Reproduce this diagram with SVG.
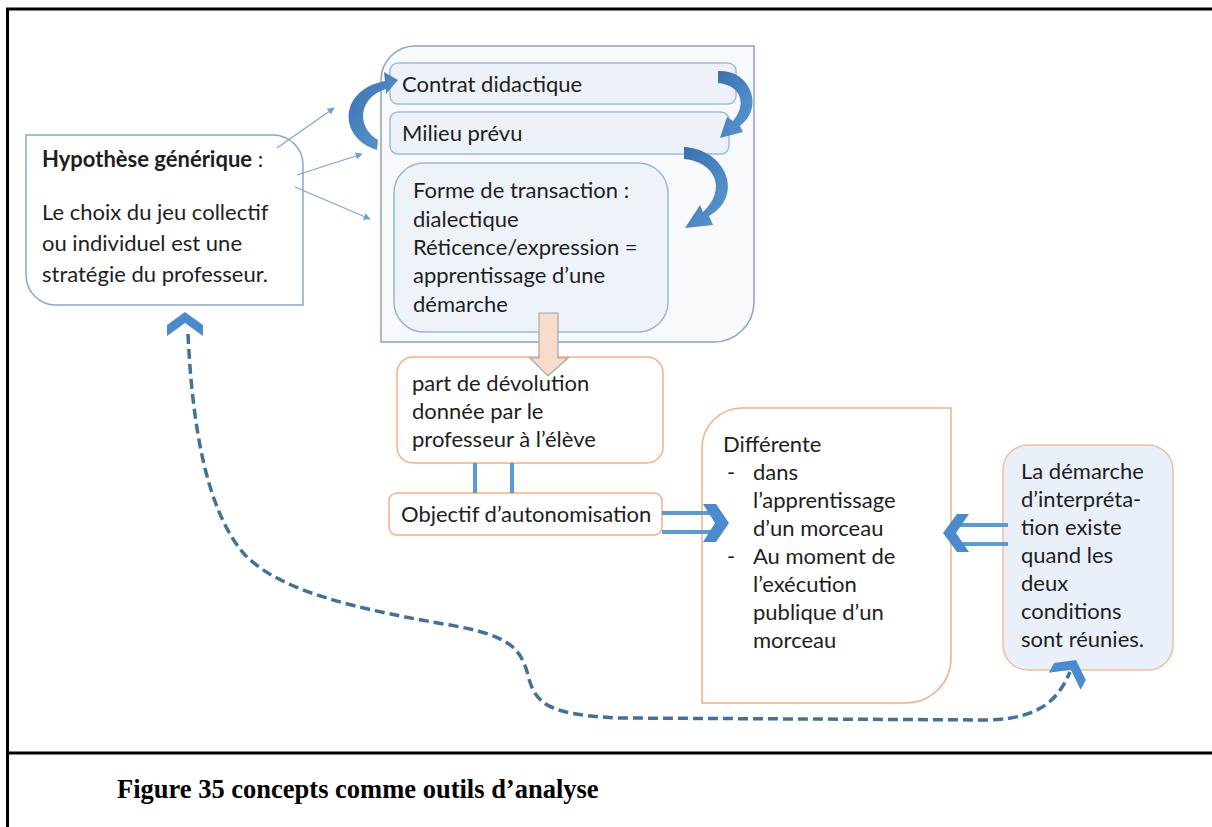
<svg xmlns="http://www.w3.org/2000/svg" width="1212" height="827" viewBox="0 0 1212 827">
<defs>
<style>
.t{font-family:Lato,"Liberation Sans",sans-serif;font-size:22px;fill:#1e1e1e}
.b{font-weight:bold}
.cap{font-family:"Liberation Serif",serif;font-size:26.5px;font-weight:bold;fill:#000}
.frame{stroke:#000;stroke-width:3;fill:none}
.thin{stroke:#7fa7d3;stroke-width:1.3;fill:none;marker-end:url(#tri)}
.orange{fill:#fff;stroke:#f4b084;stroke-width:1.5}
.curv{fill:url(#g)}
.chev{fill:#4a8bd0}
.bar{stroke:#5b9bd5;stroke-width:4;fill:none}
</style>
<linearGradient id="g" x1="0" y1="0" x2="1" y2="1">
<stop offset="0" stop-color="#3a70ad"/>
<stop offset="1" stop-color="#5b9bd5"/>
</linearGradient>
<marker id="tri" viewBox="0 0 10 10" refX="9" refY="5" markerWidth="7" markerHeight="7" markerUnits="userSpaceOnUse" orient="auto">
<path d="M0,0 L10,5 L0,10 Z" fill="#6f9fd0"/>
</marker>
<path id="chevU" d="M0,0 L18,13 L18,24 L0,11 L-18,24 L-18,13 Z"/>
</defs>
<rect width="1212" height="827" fill="#fff"/>
<g id="frame">
<line class="frame" x1="6" y1="9" x2="1212" y2="9"/>
<line class="frame" x1="7.5" y1="8" x2="7.5" y2="827"/>
<line class="frame" x1="6" y1="753" x2="1212" y2="753"/>
</g>
<g id="container">
<path d="M381,80 A34,34 0 0 1 415,46 H754 V302 A40,40 0 0 1 714,342 H381 Z" fill="#f8f9fb" stroke="#8aa4c4" stroke-width="1.5"/>
</g>
<g id="contrat">
<rect x="390" y="63" width="346" height="41" rx="8" fill="#edf2f9" stroke="#9bbbe0" stroke-width="1.5"/>
<text class="t" x="402" y="92">Contrat didactique</text>
</g>
<g id="milieu">
<rect x="390" y="112" width="339" height="42" rx="8" fill="#edf2f9" stroke="#9bbbe0" stroke-width="1.5"/>
<text class="t" x="402" y="141">Milieu prévu</text>
</g>
<g id="forme">
<rect x="394" y="163" width="274" height="169" rx="30" fill="#eef3fa" stroke="#9ab5d5" stroke-width="1.5"/>
<text class="t" x="413" y="198">Forme de transaction :</text>
<text class="t" x="413" y="227">dialectique</text>
<text class="t" x="413" y="255">Réticence/expression =</text>
<text class="t" x="413" y="283">apprentissage d’une</text>
<text class="t" x="413" y="312">démarche</text>
</g>
<g id="hypothese">
<path d="M26,135 H273 A30,30 0 0 1 303,165 V305 H56 A30,30 0 0 1 26,275 Z" fill="#fff" stroke="#86a9cf" stroke-width="1.5"/>
<text class="t" x="42" y="167"><tspan class="b">Hypothèse générique</tspan> :</text>
<text class="t" x="42" y="220">Le choix du jeu collectif</text>
<text class="t" x="42" y="251">ou individuel est une</text>
<text class="t" x="42" y="282">stratégie du professeur.</text>
</g>
<g id="part">
<rect class="orange" x="397" y="357" width="266" height="106" rx="16"/>
<text class="t" x="412" y="391">part de dévolution</text>
<text class="t" x="412" y="419">donnée par le</text>
<text class="t" x="412" y="447">professeur à l’élève</text>
</g>
<g id="objectif">
<rect class="orange" x="389" y="493" width="273" height="42" rx="8"/>
<text class="t" x="401" y="522">Objectif d’autonomisation</text>
</g>
<g id="differente">
<path class="orange" d="M702,448 A40,40 0 0 1 742,408 H951 V658 A45,45 0 0 1 906,703 H702 Z"/>
<text class="t" x="723" y="452">Différente</text>
<text class="t" x="727" y="480">-</text>
<text class="t" x="753" y="480">dans</text>
<text class="t" x="753" y="508">l’apprentissage</text>
<text class="t" x="753" y="536">d’un morceau</text>
<text class="t" x="727" y="564">-</text>
<text class="t" x="753" y="564">Au moment de</text>
<text class="t" x="753" y="592">l’exécution</text>
<text class="t" x="753" y="620">publique d’un</text>
<text class="t" x="753" y="648">morceau</text>
</g>
<g id="demarche">
<rect x="1003" y="445" width="170" height="225" rx="25" fill="#e9f0f9" stroke="#f2bf9a" stroke-width="1.5"/>
<text class="t" x="1021" y="479">La démarche</text>
<text class="t" x="1021" y="507">d’interpréta-</text>
<text class="t" x="1021" y="535">tion  existe</text>
<text class="t" x="1021" y="563">quand les</text>
<text class="t" x="1021" y="591">deux</text>
<text class="t" x="1021" y="619">conditions</text>
<text class="t" x="1021" y="647">sont réunies.</text>
</g>
<g id="connectors">
<line class="thin" x1="277" y1="148" x2="334" y2="108"/>
<line class="thin" x1="297" y1="175" x2="362" y2="154"/>
<line class="thin" x1="295" y1="187" x2="370" y2="219"/>
<path class="curv" d="M377,150 C338,138 338,90 385,81 L384,72 L398,80 L386,94 L386,89 C357,98 357,128 378,140 Z"/>
<path class="curv" d="M718,71 C750,69 765,107 740,126 L743,132 L720,138 L727,117 L733,121 C748,103 740,85 718,83 Z"/>
<path class="curv" d="M684,147 C726,149 745,196 709,216 L713,225 L685,228 L700,205 L703,212 C727,190 716,162 684,159 Z"/>
<polygon points="539,313 558,313 558,358 568,358 548,376 530,358 539,358" fill="#f8dccb" stroke="#a6a6a6" stroke-width="1.2"/>
<line class="bar" x1="475" y1="463" x2="475" y2="493"/>
<line class="bar" x1="512" y1="463" x2="512" y2="493"/>
<line class="bar" x1="662" y1="513" x2="712" y2="513" stroke-width="3.5"/>
<line class="bar" x1="662" y1="532" x2="712" y2="532" stroke-width="3.5"/>
<polygon class="chev" points="703,504 716,504 729,523 716,542 703,542 715,523"/>
<line class="bar" x1="960" y1="525" x2="1008" y2="525" stroke-width="3.5"/>
<line class="bar" x1="960" y1="544" x2="1008" y2="544" stroke-width="3.5"/>
<polygon class="chev" points="969,514 957,514 943,533 957,552 969,552 956,533"/>
<path d="M188,334 C192,420 205,510 245,555 C275,585 330,605 450,625 C505,635 520,645 528,675 C535,705 550,715 620,718 L990,720 C1040,718 1058,700 1070,672" fill="none" stroke="#41719c" stroke-width="3.5" stroke-dasharray="10,5"/>
<use href="#chevU" class="chev" transform="translate(185,312)"/>
<use href="#chevU" class="chev" transform="translate(1076,660) rotate(28)"/>
</g>
<text class="cap" x="117" y="798">Figure 35 concepts comme outils d’analyse</text>
</svg>
